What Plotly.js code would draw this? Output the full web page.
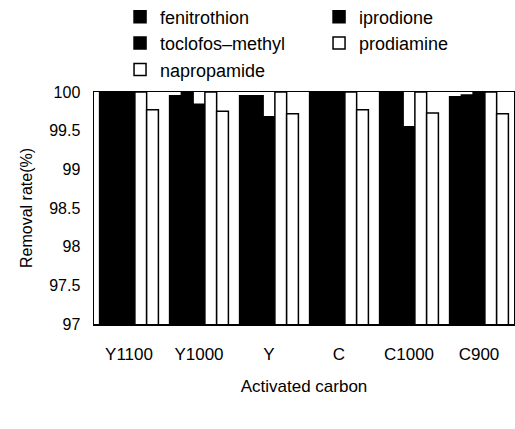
<!DOCTYPE html>
<html>
<head>
<meta charset="utf-8">
<script src="https://cdn.plot.ly/plotly-3.0.1.min.js"></script>
<style>html,body{margin:0;padding:0;background:#fff;}#chart{width:515px;height:429px;}</style>
</head>
<body>
<div id="chart"></div>
<script>
// Categories (activated carbon types)
var categories = ['Y1100', 'Y1000', 'Y', 'C', 'C1000', 'C900'];

// Removal rate (%) per pesticide, in bar order within each group
var fenitrothion    = [100.00, 99.95, 99.95, 100.00, 100.00, 99.94];
var iprodione       = [100.00, 100.00, 99.95, 100.00, 100.00, 99.96];
var toclofosMethyl  = [100.00, 99.84, 99.68, 100.00, 99.55, 100.00];
var prodiamine      = [100.00, 100.00, 100.00, 100.00, 100.00, 100.00];
var napropamide     = [99.77, 99.75, 99.72, 99.77, 99.73, 99.72];

// Y axis tick labels
var yTickVals = [97, 97.5, 98, 98.5, 99, 99.5, 100];
var yTickText = ['97', '97.5', '98', '98.5', '99', '99.5', '100'];

var FONT = '"Liberation Sans", Arial, Helvetica, sans-serif';

function barTrace(name, values, fill) {
  return {
    type: 'bar',
    name: name,
    x: categories,
    y: values,
    marker: { color: fill, line: { color: '#000', width: 1.5 } },
    hoverinfo: 'x+y+name'
  };
}

var data = [
  barTrace('fenitrothion', fenitrothion, '#000'),
  barTrace('iprodione', iprodione, '#000'),
  barTrace('toclofos\u2013methyl', toclofosMethyl, '#000'),
  barTrace('prodiamine', prodiamine, '#fff'),
  barTrace('napropamide', napropamide, '#fff')
];

var layout = {
  width: 515,
  height: 429,
  margin: { l: 94, r: 1, t: 92, b: 105, autoexpand: false },
  paper_bgcolor: '#fff',
  plot_bgcolor: '#fff',
  font: { family: FONT, color: '#000', size: 16 },
  barmode: 'group',
  bargap: 0.16,
  bargroupgap: 0,
  showlegend: true,
  legend: {
    orientation: 'h',
    x: 0.062,
    xanchor: 'left',
    y: 1.403,
    yanchor: 'top',
    entrywidth: 154,
    entrywidthmode: 'pixels',
    font: { family: FONT, size: 18, color: '#000' },
    bgcolor: 'rgba(0,0,0,0)',
    traceorder: 'normal'
  },
  xaxis: {
    type: 'category',
    showline: true,
    mirror: true,
    linecolor: '#000',
    linewidth: 1.5,
    ticks: '',
    showgrid: false,
    zeroline: false,
    tickfont: { family: FONT, size: 17, color: '#000' },
    ticklabelstandoff: 14,
    title: { text: 'Activated carbon', font: { family: FONT, size: 17, color: '#000' }, standoff: 17 }
  },
  yaxis: {
    range: [97, 100],
    tickvals: yTickVals,
    ticktext: yTickText,
    showline: true,
    mirror: true,
    linecolor: '#000',
    linewidth: 1.5,
    ticks: '',
    showgrid: false,
    zeroline: false,
    tickfont: { family: FONT, size: 16, color: '#000' },
    ticklabelstandoff: 9,
    title: { text: 'Removal rate(%)', font: { family: FONT, size: 16, color: '#000' }, standoff: 12 }
  }
};

Plotly.newPlot('chart', data, layout, { displayModeBar: false, staticPlot: true });
</script>
</body>
</html>
